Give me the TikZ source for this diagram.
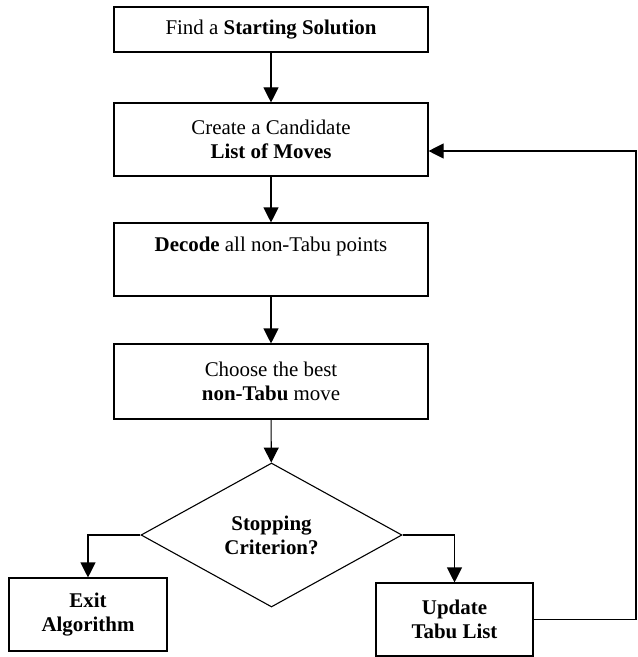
\documentclass[tikz,border=0pt]{standalone}
\usepackage{fontspec}
\setmainfont{Liberation Serif}
\usetikzlibrary{shapes.geometric,arrows.meta}
\begin{document}
\begin{tikzpicture}[x=1bp,y=-1bp,
  every node/.style={font=\fontsize{21}{24}\selectfont, align=center, inner sep=0pt},
  procbox/.style={draw, line width=1.1bp, rectangle},
  decbox/.style={draw, line width=1.1bp, diamond},
  arr/.style={line width=1.1bp, -{Triangle[length=15bp,width=15bp]}},
  lin/.style={line width=1.1bp}]
\useasboundingbox (0,0) rectangle (638,657);
\node[procbox, minimum width=314bp, minimum height=45bp] (b1) at (271,29.5) {Find a \textbf{Starting Solution}};
\node[procbox, minimum width=314bp, minimum height=73bp] (b2) at (271,139.5) {Create a Candidate\\\textbf{List of Moves}};
\node[procbox, minimum width=314bp, minimum height=73bp] (b3) at (271,259.5) {\textbf{Decode} all non-Tabu points\\\strut};
\node[procbox, minimum width=314bp, minimum height=75bp] (b4) at (271,381.5) {Choose the best\\\textbf{non-Tabu} move};
\node[decbox, minimum width=261bp, minimum height=144bp] (dec) at (271.5,535) {\textbf{Stopping}\\\textbf{Criterion?}};
\node[procbox, minimum width=158bp, minimum height=73bp] (exit) at (88,614.5) {\textbf{Exit}\\\textbf{Algorithm}};
\node[procbox, minimum width=157bp, minimum height=73bp] (upd) at (454.5,619.5) {\textbf{Update}\\\textbf{Tabu List}};
\coordinate (fb) at (636,0);
\draw[arr] (b1) -- (b2);
\draw[arr] (b2) -- (b3);
\draw[arr] (b3) -- (b4);
\draw[arr] (b4) -- (dec);
\draw[arr] (dec.west) -| (exit.north);
\draw[arr] (dec.east) -| (upd.north);
\draw[arr] (upd.east) -- (upd.east -| fb) |- ([yshift=-11.5bp]b2.east);
\end{tikzpicture}
\end{document}
